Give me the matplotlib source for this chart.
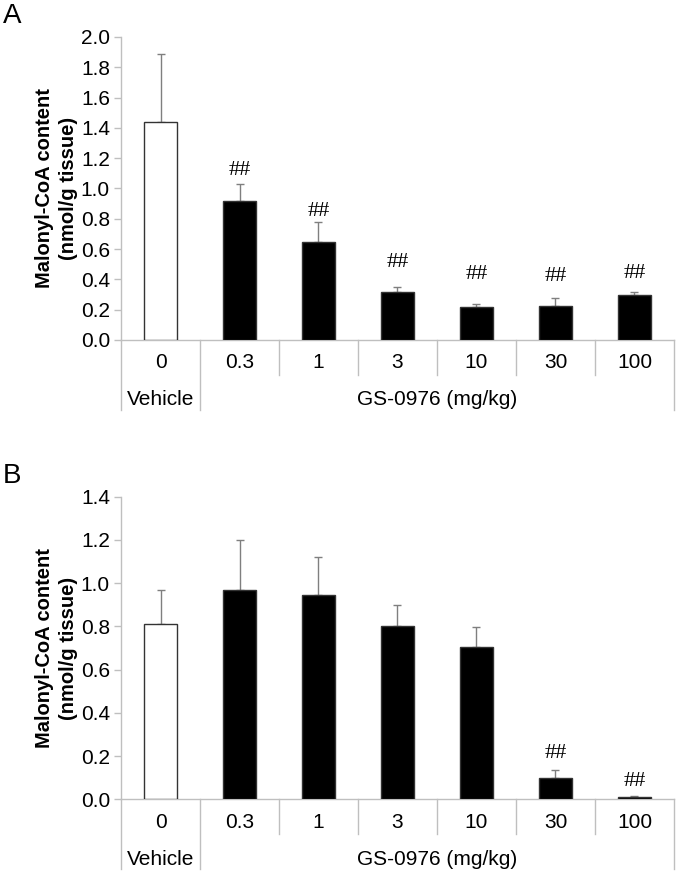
import matplotlib
matplotlib.use("Agg")
import matplotlib.pyplot as plt
import numpy as np

plt.rcParams['font.family'] = ['Liberation Sans', 'DejaVu Sans']

doses = ['0', '0.3', '1', '3', '10', '30', '100']

# panel A
a_mean = [1.44, 0.92, 0.65, 0.32, 0.215, 0.225, 0.295]
a_err = [0.45, 0.11, 0.13, 0.03, 0.02, 0.055, 0.025]
a_sig = [None, 1.12, 0.85, 0.51, 0.43, 0.42, 0.44]

# panel B
b_mean = [0.81, 0.97, 0.945, 0.80, 0.705, 0.10, 0.012]
b_err = [0.16, 0.23, 0.175, 0.10, 0.09, 0.035, 0.004]
b_sig = [None, None, None, None, None, 0.21, 0.08]

grey = '#bfbfbf'
fs = 15


def draw(ax, mean, err, sig, ymax, letter):
    x = np.arange(len(doses))
    colors = ['white'] + ['black'] * (len(doses) - 1)
    ax.bar(x, mean, width=0.41, color=colors, edgecolor='#333333', linewidth=1, zorder=3)
    ax.errorbar(x, mean, yerr=[np.zeros(len(err)), err], fmt='none',
                ecolor='#7f7f7f', elinewidth=1, capsize=3, capthick=1, zorder=2)
    for xi, s in zip(x, sig):
        if s is not None:
            ax.text(xi, s, '##', ha='center', va='center', fontsize=16,
                    family=['Liberation Serif', 'DejaVu Serif'])
    ax.set_xlim(-0.5, len(doses) - 0.5)
    ax.set_ylim(0, ymax)
    ticks = np.arange(0, ymax + 0.001, 0.2)
    ax.set_yticks(ticks)
    ax.set_yticklabels(['%.1f' % v for v in ticks], fontsize=fs)
    ax.tick_params(axis='y', color=grey, length=5, width=1, pad=3)
    ax.set_xticks([])
    for s in ['top', 'right']:
        ax.spines[s].set_visible(False)
    for s in ['left', 'bottom']:
        ax.spines[s].set_color(grey)
        ax.spines[s].set_linewidth(1)
    ax.set_ylabel('Malonyl-CoA content\n(nmol/g tissue)', fontsize=14.5,
                  fontweight='bold', labelpad=2, linespacing=1.3)

    # category table below the axis
    tr = ax.get_xaxis_transform()
    h = ax.get_window_extent().height
    row1 = -35.0 / h
    row2 = -70.0 / h
    for xv in np.arange(-0.5, len(doses), 1.0):
        y_end = row2 if xv in (-0.5, 0.5, len(doses) - 0.5) else row1
        ax.plot([xv, xv], [0, y_end], color=grey, lw=1, transform=tr, clip_on=False)
    for xi, d in zip(x, doses):
        ax.text(xi, -23.0 / h, d, ha='center', va='center', fontsize=fs, transform=tr)
    ax.text(0, -60.0 / h, 'Vehicle', ha='center', va='center', fontsize=fs, transform=tr)
    ax.text(3.5, -60.0 / h, 'GS-0976 (mg/kg)', ha='center', va='center', fontsize=fs, transform=tr)
    w = ax.get_window_extent().width
    ax.text(-118.0 / w, 1.0 + 8.0 / h, letter, fontsize=20, transform=ax.transAxes,
            ha='left', va='bottom')


fig = plt.figure(figsize=(6.78, 8.74), dpi=100)
ax1 = fig.add_axes([0.1785, 0.611, 0.8155, 0.3467])
ax2 = fig.add_axes([0.1785, 0.0855, 0.8155, 0.3462])
draw(ax1, a_mean, a_err, a_sig, 2.0, 'A')
draw(ax2, b_mean, b_err, b_sig, 1.4, 'B')

fig.savefig('out.png', dpi=100)
